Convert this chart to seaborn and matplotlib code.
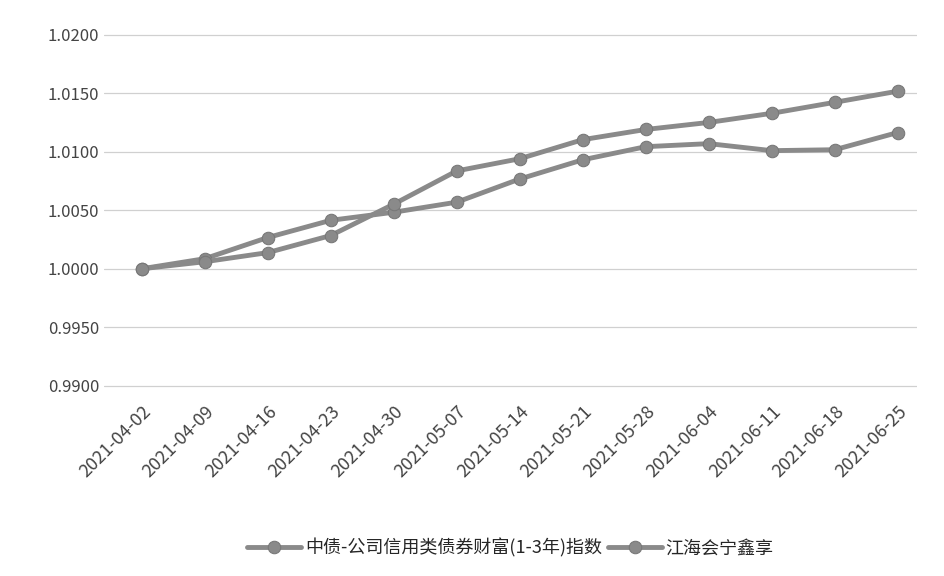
import matplotlib
matplotlib.use("Agg")
import matplotlib.pyplot as plt
import seaborn as sns
import pandas as pd

dates = ["2021-04-02", "2021-04-09", "2021-04-16", "2021-04-23", "2021-04-30", "2021-05-07",
         "2021-05-14", "2021-05-21", "2021-05-28", "2021-06-04", "2021-06-11", "2021-06-18", "2021-06-25"]
index_vals = [1.0000, 1.00086, 1.00267, 1.00414, 1.00483, 1.00569, 1.00767,
              1.00931, 1.01043, 1.01069, 1.01009, 1.01017, 1.01164]
fund_vals = [1.0000, 1.00060, 1.00138, 1.00284, 1.00552, 1.00836, 1.00940,
             1.01103, 1.01190, 1.01250, 1.01328, 1.01422, 1.01517]
names = ["中债-公司信用类债券财富(1-3年)指数", "江海会宁鑫享"]

df = pd.DataFrame({"date": dates * 2,
                   "value": index_vals + fund_vals,
                   "series": [names[0]] * 13 + [names[1]] * 13})

sns.set_style("white")
plt.rcParams["font.family"] = ["Noto Sans CJK SC", "DejaVu Sans"]

fig, ax = plt.subplots(figsize=(9.45, 5.76), dpi=100)
sns.lineplot(data=df, x="date", y="value", hue="series", palette=["#8a8a8a", "#8a8a8a"],
             marker="o", markersize=9, markeredgecolor="#777", linewidth=3.5, sort=False, ax=ax)

ax.set_ylim(0.9895, 1.0205)
ax.set_yticks([0.99, 0.995, 1.0, 1.005, 1.01, 1.015, 1.02])
ax.set_yticklabels([f"{v:.4f}" for v in ax.get_yticks()], fontsize=12, color="#444")
ax.set_xlim(-0.6, 12.3)
ax.grid(axis="y", color="#d0d0d0", linewidth=0.9)
for s in ax.spines.values():
    s.set_visible(False)
plt.setp(ax.get_xticklabels(), rotation=45, ha="right", rotation_mode="anchor", fontsize=13, color="#444")
ax.tick_params(length=0)
ax.tick_params(axis="x", pad=8)
ax.set_xlabel("")
ax.set_ylabel("")
ax.legend(loc="center", bbox_to_anchor=(0.5, -0.43), ncol=2, frameon=False,
          fontsize=13, handlelength=3, columnspacing=0.3, handletextpad=0.2)
plt.subplots_adjust(left=0.11, right=0.97, top=0.95, bottom=0.32)
fig.savefig("out.png")
